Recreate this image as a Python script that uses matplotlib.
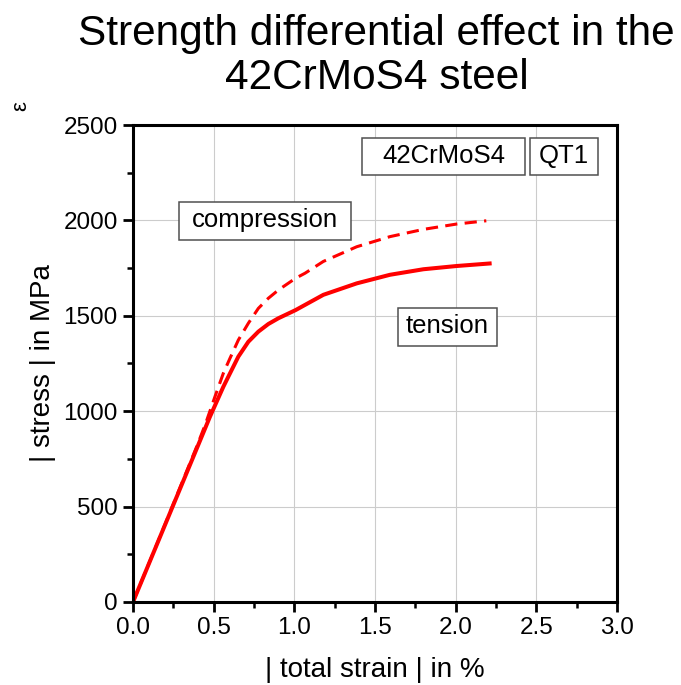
import numpy as np
import matplotlib.pyplot as plt
from matplotlib.ticker import MultipleLocator
from matplotlib.patches import Rectangle

plt.rcParams['font.family'] = ['Liberation Sans', 'DejaVu Sans']

# tension curve (solid)
strain_t = [0.0, 0.2, 0.4, 0.477, 0.56, 0.591, 0.653, 0.715, 0.777, 0.839, 0.901, 1.008, 1.066,
            1.18, 1.387, 1.593, 1.8, 2.006, 2.223]
stress_t = [0, 407, 814, 971, 1128, 1181, 1286, 1364, 1417, 1457, 1487, 1530, 1557,
            1610, 1670, 1715, 1744, 1761, 1775]

# compression curve (dashed)
strain_c = [0.0, 0.2, 0.4, 0.45, 0.508, 0.56, 0.601, 0.653, 0.715, 0.777, 0.839, 0.901, 1.008,
            1.066, 1.18, 1.387, 1.593, 1.8, 2.006, 2.19]
stress_c = [0, 410, 825, 935, 1076, 1199, 1277, 1373, 1461, 1539, 1592, 1635, 1697,
            1723, 1785, 1862, 1915, 1953, 1981, 1998]

fig = plt.figure(figsize=(6.81, 6.85), dpi=100)
ax = fig.add_axes([0.1953, 0.1212, 0.7107, 0.6963])

ax.plot(strain_t, stress_t, color='red', lw=2.9, solid_capstyle='butt', solid_joinstyle='round')
ax.plot(strain_c, stress_c, color='red', lw=2.2, dashes=(4, 2.4))

ax.set_xlim(0, 3.0)
ax.set_ylim(0, 2500)
ax.xaxis.set_major_locator(MultipleLocator(0.5))
ax.xaxis.set_minor_locator(MultipleLocator(0.25))
ax.yaxis.set_major_locator(MultipleLocator(500))
ax.yaxis.set_minor_locator(MultipleLocator(250))
ax.xaxis.set_major_formatter(lambda v, p: f'{v:.1f}')
ax.grid(True, which='major', color='#cccccc', lw=0.8)
ax.set_axisbelow(True)

for s in ax.spines.values():
    s.set_linewidth(2.2)
ax.tick_params(which='major', direction='out', length=7, width=2.0, labelsize=17.5, pad=4)
ax.tick_params(which='minor', direction='out', length=4, width=1.8)
ax.tick_params(top=False, right=False, which='both')

ax.set_xlabel('| total strain | in %', fontsize=20, labelpad=13)
ax.set_ylabel('| stress | in MPa', fontsize=20, labelpad=5)

# labelled boxes: (x0, x1, y0, y1, text)
boxes = [(1.419, 2.430, 2238, 2432, '42CrMoS4'),
         (2.461, 2.882, 2238, 2432, 'QT1'),
         (0.285, 1.351, 1897, 2096, 'compression'),
         (1.643, 2.256, 1342, 1541, 'tension')]
for x0, x1, y0, y1, t in boxes:
    ax.add_patch(Rectangle((x0, y0), x1 - x0, y1 - y0, fc='white', ec='#505050', lw=1.1, zorder=3))
    ax.text((x0 + x1) / 2, (y0 + y1) / 2 + 5, t, fontsize=18.5, ha='center', va='center', zorder=4)

fig.text(0.553, 0.918, 'Strength differential effect in the\n42CrMoS4 steel',
         fontsize=30.5, ha='center', va='center', linespacing=1.13)
fig.text(0.03, 0.845, 'ε', fontsize=16, rotation=90, ha='center', va='center')

fig.savefig('out.png', dpi=100)
